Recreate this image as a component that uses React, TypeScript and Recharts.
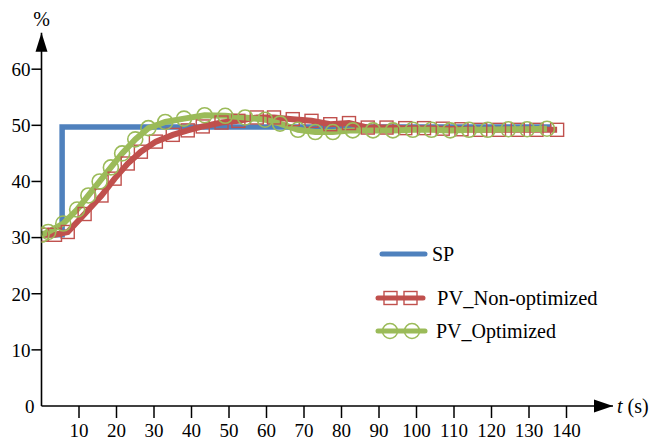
import { Line, LineChart, ReferenceDot, XAxis, YAxis } from "recharts";

const FONT = "Liberation Serif, DejaVu Serif, serif";

const X_TICKS = [10, 20, 30, 40, 50, 60, 70, 80, 90, 100, 110, 120, 130, 140];
const Y_TICKS = [0, 10, 20, 30, 40, 50, 60];
const X_END = 152.4;
const Y_END = 66.5;

const SERIES_NAMES = ["SP", "PV_Non-optimized", "PV_Optimized"];

const SP_TIME = [0, 5.5, 5.5, 136];
const SP_VALUE = [30.5, 30.5, 49.7, 49.7];

const RAW_TIME = [
  0, 3.6, 7, 11.5, 16, 19.5, 23, 26.5, 30.5, 35, 39, 43, 48, 52.5, 57.4, 62, 67,
  72, 77, 82, 87, 92, 97, 102, 107, 112, 117, 122, 127, 132, 137.5,
];
const RAW_VALUE = [
  30.5, 30.5, 31, 34.2, 37.5, 40.5, 43.2, 45.3, 47.1, 48.3, 49.1, 49.8, 50.5,
  50.8, 51.4, 51.4, 51.1, 50.8, 50.2, 50.4, 49.6, 49.6, 49.5, 49.5, 49.4, 49.3,
  49.2, 49.2, 49.2, 49.2, 49.2,
];

const OPT_TIME = [
  0, 1.8, 5.8, 9.5, 12.5, 15.5, 18.5, 21.5, 25, 28.5, 33, 38, 43.5, 49, 54.3,
  59.6, 63.6, 68.4, 73, 77.7, 83, 88.4, 93.7, 99, 104, 109, 114, 119, 124.5,
  129.5, 134.8,
];
const OPT_VALUE = [
  30.5, 31, 32.5, 35, 37.5, 40, 42.5, 45, 47.5, 49.5, 50.6, 51.2, 51.8, 51.7,
  51.4, 51, 50.3, 49.2, 48.8, 48.8, 49.1, 49.1, 49.1, 49.2, 49.2, 49.1, 49.2,
  49.2, 49.3, 49.3, 49.4,
];

const BLUE = "#4F81BD";
const RED = "#C0504D";
const GREEN = "#9BBB59";

const zip = (ts: number[], vs: number[]) => ts.map((t, i) => ({ t, v: vs[i] }));

const spData = zip(SP_TIME, SP_VALUE);
const rawData = zip(RAW_TIME, RAW_VALUE);
const optData = zip(OPT_TIME, OPT_VALUE);

function SquareDot({ cx, cy }: { cx?: number; cy?: number }) {
  if (cx == null || cy == null) return null;
  return (
    <rect x={cx - 6.5} y={cy - 6.5} width={13} height={13} fill="none" stroke={RED} strokeWidth={1.4} />
  );
}

function CircleDot({ cx, cy }: { cx?: number; cy?: number }) {
  if (cx == null || cy == null) return null;
  return <circle cx={cx} cy={cy} r={7.5} fill="none" stroke={GREEN} strokeWidth={1.6} />;
}

function XTick({ x, y, payload }: { x?: number; y?: number; payload?: { value: number } }) {
  if (x == null || y == null || !payload) return null;
  return (
    <text x={x} y={y} dy="0.71em" textAnchor="middle" fontFamily={FONT} fontSize={19} fill="#000">
      {payload.value}
    </text>
  );
}

function YTick({ x, y, payload }: { x?: number; y?: number; payload?: { value: number } }) {
  if (x == null || y == null || !payload) return null;
  const zero = payload.value === 0;
  return (
    <g>
      {!zero && <line x1={x} y1={y} x2={x + 10} y2={y} stroke="#000" strokeWidth={1.5} />}
      <text
        x={zero ? x + 3 : x - 1}
        y={y}
        dy="0.36em"
        textAnchor="end"
        fontFamily={FONT}
        fontSize={19}
        fill="#000"
      >
        {payload.value}
      </text>
    </g>
  );
}

function XArrow({ cx, cy }: { cx?: number; cy?: number }) {
  if (cx == null || cy == null) return null;
  return (
    <g>
      <polygon points={`${cx},${cy} ${cx - 19},${cy - 6.5} ${cx - 19},${cy + 6.5}`} fill="#000" />
      <text x={cx + 4} y={cy} dy="0.36em" fontFamily={FONT} fontSize={20} fill="#000">
        <tspan fontStyle="italic">t</tspan> (s)
      </text>
    </g>
  );
}

function YArrow({ cx, cy }: { cx?: number; cy?: number }) {
  if (cx == null || cy == null) return null;
  return (
    <g>
      <polygon points={`${cx},${cy} ${cx - 6},${cy + 19} ${cx + 6},${cy + 19}`} fill="#000" />
      <text x={cx} y={cy - 7} textAnchor="middle" fontFamily={FONT} fontSize={20} fill="#000">
        %
      </text>
    </g>
  );
}

function ChartLegend() {
  return (
    <svg width={275} height={115} style={{ position: "absolute", left: 370, top: 235 }}>
      <line x1={12} y1={19} x2={55} y2={19} stroke={BLUE} strokeWidth={5} strokeLinecap="round" />
      <text x={62} y={19} dy="0.36em" fontFamily={FONT} fontSize={20} fill="#000">
        {SERIES_NAMES[0]}
      </text>
      <line x1={8} y1={63} x2={53} y2={63} stroke={RED} strokeWidth={5} strokeLinecap="round" />
      <rect x={14} y={56.5} width={13} height={13} fill="none" stroke={RED} strokeWidth={1.4} />
      <rect x={34} y={56.5} width={13} height={13} fill="none" stroke={RED} strokeWidth={1.4} />
      <text x={67} y={63} dy="0.36em" fontFamily={FONT} fontSize={20.5} fill="#000">
        {SERIES_NAMES[1]}
      </text>
      <line x1={8} y1={96} x2={55} y2={96} stroke={GREEN} strokeWidth={5} strokeLinecap="round" />
      <circle cx={20} cy={96} r={7.5} fill="none" stroke={GREEN} strokeWidth={1.6} />
      <circle cx={42} cy={96} r={7.5} fill="none" stroke={GREEN} strokeWidth={1.6} />
      <text x={66} y={96} dy="0.36em" fontFamily={FONT} fontSize={20} fill="#000">
        {SERIES_NAMES[2]}
      </text>
    </svg>
  );
}

export default function App() {
  return (
    <div style={{ position: "absolute", left: 0, top: 0, width: 649, height: 441, background: "#fff" }}>
      <LineChart width={649} height={441} margin={{ top: 32.7, right: 36, bottom: 0, left: 0 }}>
        <XAxis
          type="number"
          dataKey="t"
          domain={[0, X_END]}
          ticks={X_TICKS}
          allowDataOverflow
          height={35}
          tickSize={12}
          tickMargin={6}
          axisLine={{ stroke: "#000", strokeWidth: 1.6 }}
          tickLine={{ stroke: "#000", strokeWidth: 1.5 }}
          tick={<XTick />}
        />
        <YAxis
          type="number"
          domain={[0, Y_END]}
          ticks={Y_TICKS}
          allowDataOverflow
          width={41.5}
          tickLine={false}
          tickSize={10}
          tickMargin={0}
          axisLine={{ stroke: "#000", strokeWidth: 1.6 }}
          tick={<YTick />}
        />
        <Line
          data={spData}
          dataKey="v"
          name={SERIES_NAMES[0]}
          type="linear"
          stroke={BLUE}
          strokeWidth={5.5}
          dot={false}
          activeDot={false}
          isAnimationActive={false}
        />
        <Line
          data={rawData}
          dataKey="v"
          name={SERIES_NAMES[1]}
          type="linear"
          stroke={RED}
          strokeWidth={6}
          dot={<SquareDot />}
          activeDot={false}
          isAnimationActive={false}
        />
        <Line
          data={optData}
          dataKey="v"
          name={SERIES_NAMES[2]}
          type="linear"
          stroke={GREEN}
          strokeWidth={6}
          dot={<CircleDot />}
          activeDot={false}
          isAnimationActive={false}
        />
        <ReferenceDot x={X_END} y={0} r={0} ifOverflow="visible" shape={<XArrow />} />
        <ReferenceDot x={0} y={Y_END} r={0} ifOverflow="visible" shape={<YArrow />} />
      </LineChart>
      <ChartLegend />
    </div>
  );
}
